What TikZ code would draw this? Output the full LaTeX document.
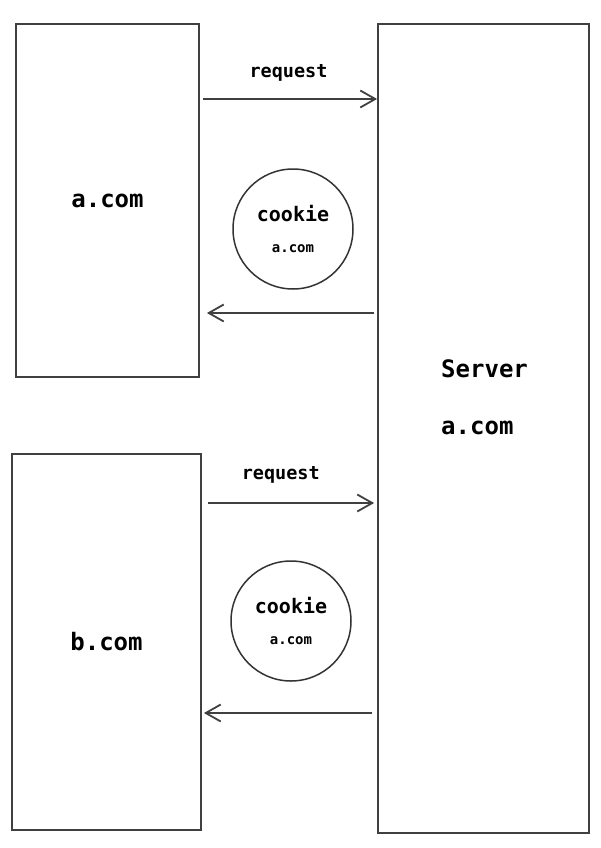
\documentclass[tikz,border=0pt]{standalone}
\usepackage{fontspec}
\setmonofont{DejaVu Sans Mono}
\usetikzlibrary{arrows.meta}

\begin{document}
\begin{tikzpicture}[x=1pt, y=-1pt, line width=1.8pt,
  >={Straight Barb[length=15pt, width=17pt]},
  box/.style={draw=black!75, rectangle, inner sep=0pt},
  big/.style={font=\ttfamily\bfseries\fontsize{24}{28}\selectfont},
  lbl/.style={font=\ttfamily\bfseries\fontsize{18.5}{22}\selectfont},
  cookie/.style={circle, draw=black!80, line width=1.5pt, minimum size=120pt, inner sep=0pt, align=center, font=\ttfamily\bfseries}]
\useasboundingbox (0,0) rectangle (600,848);
\node[box, big, minimum width=183pt, minimum height=353pt] (a) at (107.5,200.5) {a.com};
\node[box, minimum width=211pt, minimum height=809pt] (s) at (483.5,428.5) {};
\node[big, align=left, anchor=west] (sl) at (437,397) {Server\\[29pt]a.com};
\node[box, big, minimum width=189pt, minimum height=376pt] (b) at (106.5,642) {b.com};
\node[cookie] (c1) at (293,229) {\fontsize{20}{24}\selectfont cookie\\[19pt]\fontsize{14}{18}\selectfont a.com};
\node[cookie] (c2) at (291,621) {\fontsize{20}{24}\selectfont cookie\\[19pt]\fontsize{14}{18}\selectfont a.com};
\coordinate (r1) at (0,99);
\coordinate (r2) at (0,313);
\coordinate (r3) at (0,503);
\coordinate (r4) at (0,713);
\draw[->, black!75, shorten <=3pt] (a.east |- r1) -- (s.west |- r1) node[midway, above=13pt, lbl, black] (q1) {request};
\draw[->, black!75, shorten <=3pt, shorten >=7pt] (s.west |- r2) -- (a.east |- r2);
\draw[->, black!75, shorten <=6pt, shorten >=3pt] (b.east |- r3) -- (s.west |- r3) node[pos=0.45, above=15pt, lbl, black] (q2) {request};
\draw[->, black!75, shorten <=5pt, shorten >=2pt] (s.west |- r4) -- (b.east |- r4);
\end{tikzpicture}
\end{document}
